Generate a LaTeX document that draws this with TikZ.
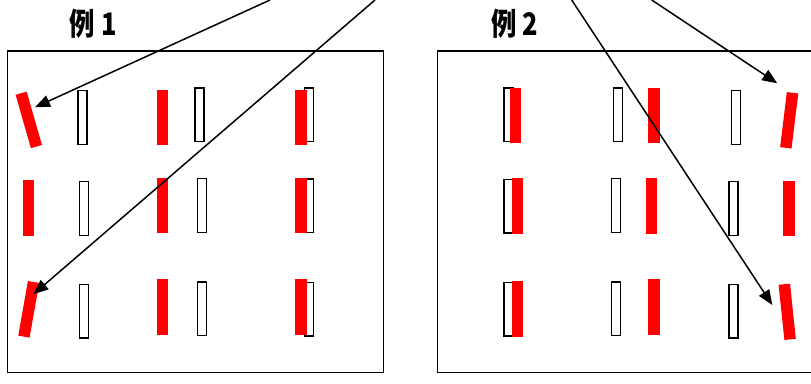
\documentclass[tikz,border=0pt]{standalone}
\usepackage{fontspec}
\newfontfamily\cjk{Noto Sans CJK SC}
\usetikzlibrary{arrows.meta,calc}
\begin{document}
\begin{tikzpicture}[x=1pt,y=-1pt,
  frame/.style={draw=black,line width=1.6pt,inner sep=0pt},
  slot/.style={draw=black,line width=1.4pt,fill=white,inner sep=0pt,
    minimum width=9.1pt,minimum height=53.6pt},
  bar/.style={fill=red,inner sep=0pt,minimum width=11.5pt,minimum height=55.5pt},
  pointer/.style={line width=1.5pt,-{Triangle[length=15pt,width=12pt]}},
  title/.style={font=\cjk\bfseries\fontsize{31}{31}\selectfont,inner sep=0pt,
    xscale=0.82,transform shape}]
\useasboundingbox (0,0) rectangle (811,383);
\clip (0,0) rectangle (811,383);

% panel titles
\node[title] (t1) at (93.3,23.3) {例 1};
\node[title] (t2) at (514.5,23.3) {例 2};

% panel frames (the right one runs past the edge)
\node[frame,minimum width=376pt,minimum height=321.5pt] (f1) at (195.5,211.75) {};
\node[frame,minimum width=402.5pt,minimum height=321.5pt] (f2) at (638.75,211.75) {};

% ---- example 1: empty slots
\node[slot] (a11) at (82.5,117.5) {};
\node[slot] (a12) at (199.5,114.7) {};
\node[slot] (a13) at (309.2,114.7) {};
\node[slot] (a21) at (84.2,208.5) {};
\node[slot] (a22) at (202.2,205.5) {};
\node[slot] (a23) at (309.2,205.8) {};
\node[slot] (a31) at (84.2,311.3) {};
\node[slot] (a32) at (202.2,308.7) {};
\node[slot] (a33) at (309.2,309.2) {};
% ---- example 1: red bars
\node[bar,rotate=16] (r11) at (28.8,119.9) {};
\node[bar] (r12) at (162.5,117.3) {};
\node[bar] (r13) at (300.8,117.3) {};
\node[bar] (r21) at (28.5,207.8) {};
\node[bar] (r22) at (162.5,205.5) {};
\node[bar] (r23) at (300.8,205.5) {};
\node[bar,rotate=-10] (r31) at (28.75,309.3) {};
\node[bar] (r32) at (162.5,307) {};
\node[bar] (r33) at (300.8,307) {};

% ---- example 2: empty slots
\node[slot,minimum width=9.6pt] (b11) at (508.8,114.8) {};
\node[slot] (b12) at (618.2,114.8) {};
\node[slot] (b13) at (736.2,117.5) {};
\node[slot,minimum width=9.6pt] (b21) at (508.8,206.2) {};
\node[slot] (b22) at (616.2,205.5) {};
\node[slot] (b23) at (733.5,208.5) {};
\node[slot,minimum width=9.6pt] (b31) at (508.8,309.2) {};
\node[slot] (b32) at (616.2,308.8) {};
\node[slot] (b33) at (733.5,311.3) {};
% ---- example 2: red bars
\node[bar,minimum width=11pt] (s11) at (515.5,115.5) {};
\node[bar] (s12) at (654.2,115.5) {};
\node[bar,rotate=-7] (s13) at (789.2,120.3) {};
\node[bar,minimum width=11pt] (s21) at (517.2,205.8) {};
\node[bar] (s22) at (651.7,205.8) {};
\node[bar] (s23) at (789.2,208.3) {};
\node[bar,minimum width=11pt] (s31) at (517.2,308.8) {};
\node[bar] (s32) at (654.2,307) {};
\node[bar,rotate=6] (s33) at (787.2,311.8) {};

% arrows entering from above
\coordinate (pA) at (270,0);
\coordinate (pB) at (375,0);
\coordinate (pC) at (571.7,0);
\coordinate (pD) at (651.7,0);
\coordinate (qA) at ($(r11)+(6.2,-12.6)$);
\coordinate (qB) at ($(r31)+(4.55,-15)$);
\coordinate (qC) at ($(s33)+(-14.9,-6.8)$);
\coordinate (qD) at ($(s13)+(-11.9,-37)$);
\draw[pointer] (pA) -- (qA);
\draw[pointer] (pB) -- (qB);
\draw[pointer] (pC) -- (qC);
\draw[pointer] (pD) -- (qD);
\end{tikzpicture}
\end{document}
